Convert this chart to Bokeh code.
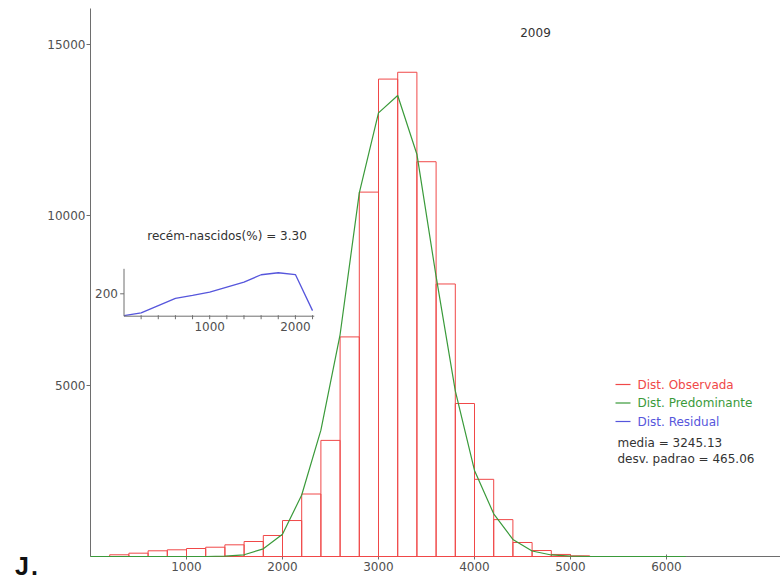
from bokeh.plotting import figure
from bokeh.models import Range1d, FixedTicker, Label, Div
from bokeh.layouts import row
from bokeh.embed import file_html
from bokeh.resources import INLINE

# ---------------- data ----------------
bin_left = [200, 400, 600, 800, 1000, 1200, 1400, 1600, 1800, 2000, 2200, 2400,
            2600, 2800, 3000, 3200, 3400, 3600, 3800, 4000, 4200, 4400, 4600, 4800, 5000]
bin_right = [400, 600, 800, 1000, 1200, 1400, 1600, 1800, 2000, 2200, 2400, 2600,
             2800, 3000, 3200, 3400, 3600, 3800, 4000, 4200, 4400, 4600, 4800, 5000, 5200]
obs_counts = [50, 97, 167, 196, 234, 272, 342, 439, 615, 1053, 1830, 3400,
              6430, 10670, 13980, 14180, 11560, 7980, 4480, 2260, 1080, 410, 175, 60, 20]

pred_x = [0, 200, 400, 600, 800, 1000, 1200, 1400, 1600, 1800, 2000, 2200, 2400, 2600,
          2800, 3000, 3200, 3400, 3600, 3800, 4000, 4200, 4400, 4600, 4800, 5000, 5200,
          5400, 5600, 5800, 6000, 6200]
pred_y = [0, 0, 0, 0, 0, 0, 0, 10, 50, 225, 650, 1800, 3700, 6500,
          10650, 12990, 13500, 11780, 8200, 4850, 2520, 1250, 500, 160, 45, 10, 0,
          0, 0, 0, 0, 0]

res_x = [0, 200, 400, 600, 800, 1000, 1200, 1400, 1600, 1800, 2000, 2200]
res_y = [5, 30, 95, 160, 185, 214, 259, 304, 370, 388, 372, 50]

x_ticks = [1000, 2000, 3000, 4000, 5000, 6000]
y_ticks = [5000, 10000, 15000]
inset_x_ticks = [200, 400, 600, 800, 1000, 1200, 1400, 1600, 1800, 2000, 2200]
inset_x_labels = [1000, 2000]
inset_y_ticks = [200]

year_text = "2009"
inset_title = "recém-nascidos(%) = 3.30"
legend_names = ["Dist. Observada", "Dist. Predominante", "Dist. Residual"]
stats_lines = ["media = 3245.13", "desv. padrao = 465.06"]
panel_tag = "J."

# ---------------- geometry helpers (page pixels) ----------------
W, H = 780, 579
DIV_PAD = 5                      # Div content inset observed in the browser
TAGW = 44                        # full width of the left strip holding the panel tag
FL, FB, FT = 90, 556, 8          # frame left, bottom, top (page px)
SX, SY = 0.096, 0.03415          # px per data unit (main)
def mx(px): return (px - FL) / SX
def my(py): return (FB - py) / SY

IX0, IY0, ISX, ISY = 123.5, 315.7, 0.0857, 0.112   # inset origin / scale
def ix(px): return (px - IX0) / ISX
def iy(py): return (IY0 - py) / ISY

FONT = "DejaVu Sans"
RED, GREEN, BLUE = "#f04848", "#3a9a3a", "#5656dc"
AXC, TXC = "#6e6e6e", "#505050"

p = figure(width=W - TAGW, height=H, output_backend="svg", toolbar_location=None,
           x_range=Range1d(0, mx(W)), y_range=Range1d(0, my(FT)),
           min_border_left=FL - TAGW, min_border_right=0, min_border_top=FT,
           min_border_bottom=H - FB, outline_line_color=None)
p.extra_x_ranges = {"ix": Range1d(ix(FL), ix(W))}
p.extra_y_ranges = {"iy": Range1d(iy(FB), iy(FT))}
p.grid.visible = False

for ax in (p.xaxis[0], p.yaxis[0]):
    ax.axis_line_color = AXC
    ax.major_tick_line_color = AXC
    ax.minor_tick_line_color = None
    ax.major_label_text_font = FONT
    ax.major_label_text_font_size = "12px"
    ax.major_label_text_color = TXC
p.xaxis.ticker = FixedTicker(ticks=x_ticks)
p.yaxis.ticker = FixedTicker(ticks=y_ticks)
p.xaxis.major_tick_in = 2
p.xaxis.major_tick_out = 3
p.xaxis.major_label_standoff = 2
p.yaxis.major_tick_in = 0
p.yaxis.major_tick_out = 4
p.yaxis.major_label_standoff = 1

# histogram + predominant curve
p.quad(left=bin_left, right=bin_right, bottom=0, top=obs_counts,
       fill_color=None, line_color=RED, line_width=1, level="overlay")
p.line(pred_x, pred_y, line_color=GREEN, line_width=1.2, level="overlay")

# ---------------- inset ----------------
ir = dict(x_range_name="ix", y_range_name="iy")
p.line(res_x, res_y, line_color=BLUE, line_width=1.3, **ir)
p.segment(x0=[0, 0], y0=[0, 0], x1=[2220, 0], y1=[0, 423], line_color=AXC, line_width=1, **ir)
p.segment(x0=inset_x_ticks, y0=[-27] * len(inset_x_ticks), x1=inset_x_ticks,
          y1=[9] * len(inset_x_ticks), line_color=AXC, line_width=1, **ir)
p.segment(x0=[-45] * len(inset_y_ticks), y0=inset_y_ticks, x1=[0] * len(inset_y_ticks),
          y1=inset_y_ticks, line_color=AXC, line_width=1, **ir)
for v in inset_x_labels:
    p.add_layout(Label(x=v, y=iy(321), text=str(v), text_align="center", text_baseline="top",
                       text_font=FONT, text_font_size="12px", text_color=TXC, **ir))
for v in inset_y_ticks:
    p.add_layout(Label(x=ix(117.5), y=v, text=str(v), text_align="right", text_baseline="middle",
                       text_font=FONT, text_font_size="12px", text_color=TXC, **ir))
p.add_layout(Label(x=ix(226.5), y=iy(235.5), text=inset_title, text_align="center",
                   text_baseline="middle", text_font=FONT, text_font_size="12px",
                   text_color="#333333", **ir))

# ---------------- texts / legend ----------------
p.add_layout(Label(x=mx(535), y=my(32), text=year_text, text_align="center",
                   text_baseline="middle", text_font=FONT, text_font_size="12px",
                   text_color="#333333"))

leg_rows = [384, 402.5, 421]
leg_cols = [RED, GREEN, BLUE]
p.segment(x0=[mx(615)] * 3, y0=[my(r) for r in leg_rows], x1=[mx(630)] * 3,
          y1=[my(r) for r in leg_rows], line_color=leg_cols, line_width=1.2)
for name, r, c in zip(legend_names, leg_rows, leg_cols):
    p.add_layout(Label(x=mx(637), y=my(r), text=name, text_baseline="middle",
                       text_font=FONT, text_font_size="12px", text_color=c))
for s, r in zip(stats_lines, [442, 458.5]):
    p.add_layout(Label(x=mx(617), y=my(r), text=s, text_baseline="middle",
                       text_font=FONT, text_font_size="12px", text_color="#333333"))

# ---------------- panel tag in a narrow strip left of the plot ----------------
cw, ch = TAGW - 2 * DIV_PAD, H - 2 * DIV_PAD
tag = Div(width=cw, height=ch,
          text=('<div style="position:relative;width:%dpx;height:%dpx;">'
                '<span style="position:absolute;left:%dpx;top:%dpx;white-space:nowrap;'
                "font-family:'Liberation Sans',sans-serif;font-weight:bold;"
                'font-size:25px;line-height:25px;letter-spacing:2px;color:#111111;">%s</span></div>'
                % (cw, ch, 15 - DIV_PAD, 554 - DIV_PAD, panel_tag)))

layout = row(tag, p, spacing=0)
open("out.html", "w").write(file_html(layout, INLINE))
